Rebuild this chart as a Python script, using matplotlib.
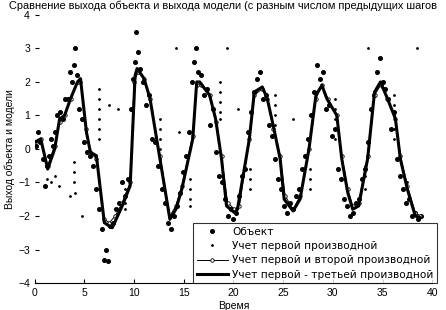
import matplotlib
matplotlib.use("Agg")
import matplotlib.pyplot as plt

plt.rcParams['font.family'] = ['Liberation Sans', 'DejaVu Sans']

# Объект (измеренный выход)
obj_t = [0.1, 0.3, 0.5, 0.8, 1.0, 1.2, 1.4, 1.6, 1.8, 2.0, 2.2, 2.5, 2.8, 3.0, 3.3, 3.5, 3.7, 3.9,
         4.0, 4.2, 4.5, 4.8, 5.0, 5.3, 5.6, 5.9, 6.2, 6.5, 6.8, 7.0, 7.2, 7.4, 7.6, 7.9, 8.2, 8.5,
         8.8, 9.1, 9.4, 9.7, 9.9, 10.1, 10.2, 10.4, 10.6, 10.9, 11.2, 11.5, 11.8, 12.1, 12.4, 12.8,
         13.1, 13.4, 13.7, 14.0, 14.3, 14.6, 14.9, 15.2, 15.5, 15.8, 16.0, 16.2, 16.4, 16.7, 17.0,
         17.3, 17.6, 17.9, 18.2, 18.5, 18.8, 19.1, 19.4, 19.7, 20.0, 20.3, 20.6, 20.9, 21.2, 21.5,
         21.8, 22.1, 22.4, 22.7, 23.0, 23.3, 23.6, 23.9, 24.2, 24.5, 24.8, 25.1, 25.4, 25.7, 26.0,
         26.3, 26.6, 26.9, 27.2, 27.5, 27.8, 28.1, 28.4, 28.7, 29.0, 29.3, 29.6, 29.9, 30.2, 30.5,
         30.8, 31.1, 31.4, 31.7, 32.0, 32.3, 32.6, 32.9, 33.2, 33.5, 33.8, 34.1, 34.4, 34.7, 35.0,
         35.3, 35.6, 35.9, 36.2, 36.5, 36.8, 37.1, 37.4, 37.7, 38.0, 38.3, 38.6, 38.9]
obj_y = [0.1, 0.5, 0.2, -0.3, -1.1, -0.5, -0.2, 0.3, 0.1, 0.5, 1.0, 1.1, 0.9, 1.5, 1.5, 2.3, 2.0, 2.5,
         3.0, 2.2, 1.2, 0.9, 0.2, -0.1, -0.2, -0.5, -1.2, -1.8, -2.4, -3.3, -3.0, -3.35, -2.3, -2.2, -1.8, -1.6,
         -1.0, -1.4, -0.9, 1.2, 2.1, 2.6, 3.5, 2.9, 2.4, 2.0, 1.3, 1.6, 0.3, 0.2, -0.5, -1.2,
         -1.6, -2.2, -2.4, -2.0, -1.7, -1.3, -0.7, -0.2, 0.5, 2.0, 2.6, 3.0, 2.3, 2.2, 1.6,
         1.8, 0.7, 1.2, -0.1, -0.8, -1.0, -1.5, -2.0, -1.8, -2.1, -1.9, -1.4, -0.8, -0.6, 0.5,
         1.1, 1.7, 2.1, 2.3, 1.5, 1.6, 0.7, 0.4, -0.3, -0.9, -1.2, -1.7, -1.9, -1.6, -1.8,
         -1.4, -1.2, -0.6, -0.2, 0.3, 1.0, 1.7, 2.5, 2.1, 2.3, 1.2, 1.3, 0.4, 0.6, -0.6,
         -0.9, -1.5, -1.7, -2.0, -1.9, -1.6, -1.5, -0.9, -0.6, 0.2, 1.2, 1.6, 2.3, 2.7, 2.0,
         1.8, 1.5, 0.6, 1.1, -0.3, -0.8, -1.2, -1.6, -1.5, -2.0, -1.9, -2.1, -2.0]

# Учет первой производной
m1_t = [1.2, 1.6, 2.0, 2.4, 3.5, 3.9, 3.9, 3.9, 4.0, 4.8,
        6.5, 6.5, 6.5, 6.5, 6.5, 6.5, 7.5, 8.4,
        9.1, 9.1, 9.1, 9.1, 12.6, 12.6, 12.6, 12.6, 12.6, 14.2, 14.5,
        15.6, 15.6, 15.6, 15.6, 18.6, 18.6, 18.6, 18.6, 18.6, 19.3, 20.5,
        21.7, 21.7, 21.7, 24.2, 24.2, 24.2, 24.2, 24.2, 26.0,
        27.7, 27.7, 27.7, 30.2, 30.2, 30.2, 30.2, 30.2, 31.5,
        33.2, 33.2, 33.2, 33.5, 36.2, 36.2, 36.2, 36.2, 36.2, 37.5, 38.5]
m1_y = [-0.9, -1.0, -0.8, -1.1, -1.4, -0.4, -0.7, -1.0, -1.3, -2.0,
        1.8, 1.5, 1.2, 0.9, 0.6, 0.3, 1.3, 1.2,
        -1.2, -1.4, -1.6, -1.8, 0.9, 0.6, 0.3, 0.0, -0.3, 3.0, 0.5,
        -0.9, -1.2, -1.5, -1.7, 2.0, 1.7, 1.4, 1.1, 0.9, 3.0, 1.2,
        -0.6, -0.9, -1.2, 1.6, 1.3, 1.0, 0.7, 0.4, 0.9,
        -0.6, -0.9, -1.2, 1.5, 1.2, 0.9, 0.6, 0.3, -1.2,
        -0.5, -0.8, -1.2, 3.0, 1.6, 1.3, 1.0, 0.6, 0.3, -1.0, 3.0]

# Учет первой и второй производной
m2_t = [0.0, 0.6, 1.3, 2.0, 2.5, 3.0, 3.6, 4.3, 4.6, 5.2, 5.6, 6.2, 7.0, 7.5, 8.1, 8.8, 9.6,
        10.0, 10.4, 11.0, 11.6, 12.6, 13.6, 14.2, 14.8, 15.9, 16.3, 16.7, 17.6, 18.2, 18.8,
        19.4, 20.1, 20.6, 21.6, 22.1, 22.9, 23.4, 24.0, 24.7, 25.2, 26.0, 26.7, 27.6, 28.3,
        28.9, 29.5, 30.4, 30.9, 31.5, 32.0, 32.6, 33.5, 34.2, 34.8, 35.5, 36.3, 36.8, 37.5,
        38.3, 38.8]
m2_y = [0.2, 0.3, -0.5, 0.1, 0.8, 1.0, 1.5, 2.0, 2.0, 0.6, -0.1, -0.3, -2.1, -2.2, -2.0, -1.6, -1.0,
        2.0, 2.3, 2.1, 1.5, -0.2, -2.0, -1.7, -1.1, 0.4, 1.9, 1.9, 1.6, 0.8, -0.2,
        -1.6, -1.8, -1.7, 0.3, 1.6, 1.8, 1.5, 0.6, -0.2, -1.4, -1.8, -1.4, 0.0, 1.5,
        1.9, 1.5, 1.0, -0.2, -1.2, -1.7, -1.6, -0.2, 1.6, 1.9, 1.5, 0.9, -0.2, -1.1,
        -1.9, -2.0]

# Учет первой - третьей производной
m3_t = [0.0, 0.6, 1.3, 2.0, 2.5, 3.0, 3.6, 4.3, 4.6, 5.2, 5.6, 6.2, 7.0, 7.5, 7.8, 8.8, 9.6,
        10.1, 10.3, 11.0, 11.6, 12.6, 13.6, 14.2, 14.8, 15.9, 16.3, 16.6, 17.6, 18.2, 18.8,
        19.3, 20.1, 20.4, 21.6, 22.1, 22.9, 23.4, 24.0, 24.7, 25.1, 26.0, 26.7, 27.6, 28.3,
        28.9, 29.4, 30.4, 30.9, 31.5, 32.0, 32.6, 33.5, 34.2, 34.8, 35.5, 36.3, 36.8, 37.5,
        38.3, 38.8]
m3_y = [0.2, 0.3, -0.6, 0.0, 0.9, 1.0, 1.5, 2.0, 2.1, 0.5, -0.1, -0.2, -2.2, -2.3, -2.35, -1.7, -1.1,
        2.2, 2.4, 2.1, 1.5, -0.3, -2.1, -1.8, -1.2, 0.3, 2.0, 2.0, 1.6, 0.9, -0.3,
        -1.7, -1.9, -1.8, 0.3, 1.7, 1.85, 1.5, 0.7, -0.3, -1.5, -1.85, -1.5, 0.0, 1.6,
        1.9, 1.5, 1.0, -0.3, -1.3, -1.8, -1.7, -0.3, 1.7, 2.0, 1.5, 0.9, -0.3, -1.2,
        -2.0, -2.05]

fig = plt.figure(figsize=(4.46, 3.10), dpi=100)
ax = fig.add_axes([0.078, 0.087, 0.891, 0.865])

ax.plot(obj_t, obj_y, 'o', color='k', markersize=2.6, label='Объект')
ax.plot(m1_t, m1_y, 'o', color='k', markersize=1.0, label='Учет первой производной')
ax.plot(m2_t, m2_y, '-o', color='k', lw=0.7, markersize=2.5, markerfacecolor='white',
        markeredgewidth=0.6, label='Учет первой и второй производной')
ax.plot(m3_t, m3_y, '-', color='k', lw=2.2, label='Учет первой - третьей производной')

ax.set_xlim(0, 40)
ax.set_ylim(-4, 4)
ax.set_xticks(range(0, 41, 5))
ax.set_yticks(range(-4, 5))
ax.tick_params(direction='in', length=3, labelsize=7.5, width=0.8)
for s in ['top', 'right', 'left']:
    ax.spines[s].set_visible(False)
ax.spines['bottom'].set_linewidth(0.8)

ax.set_xlabel('Время', fontsize=7.5, labelpad=2)
ax.set_ylabel('Выход объекта и модели', fontsize=7.5, labelpad=2)
fig.text(0.5, 0.997, 'Сравнение выхода объекта и выхода модели (с разным числом предыдущих шагов',
         ha='center', va='top', fontsize=7.9)

leg = ax.legend(loc='lower right', bbox_to_anchor=(1.012, 0.0), borderaxespad=0,
                prop={'family': 'DejaVu Sans', 'size': 7.6},
                frameon=True, fancybox=False, edgecolor='k', handlelength=3.0,
                labelspacing=0.42, borderpad=0.3, handletextpad=0.4)
leg.get_frame().set_linewidth(0.8)

fig.savefig('out.png', dpi=100)
